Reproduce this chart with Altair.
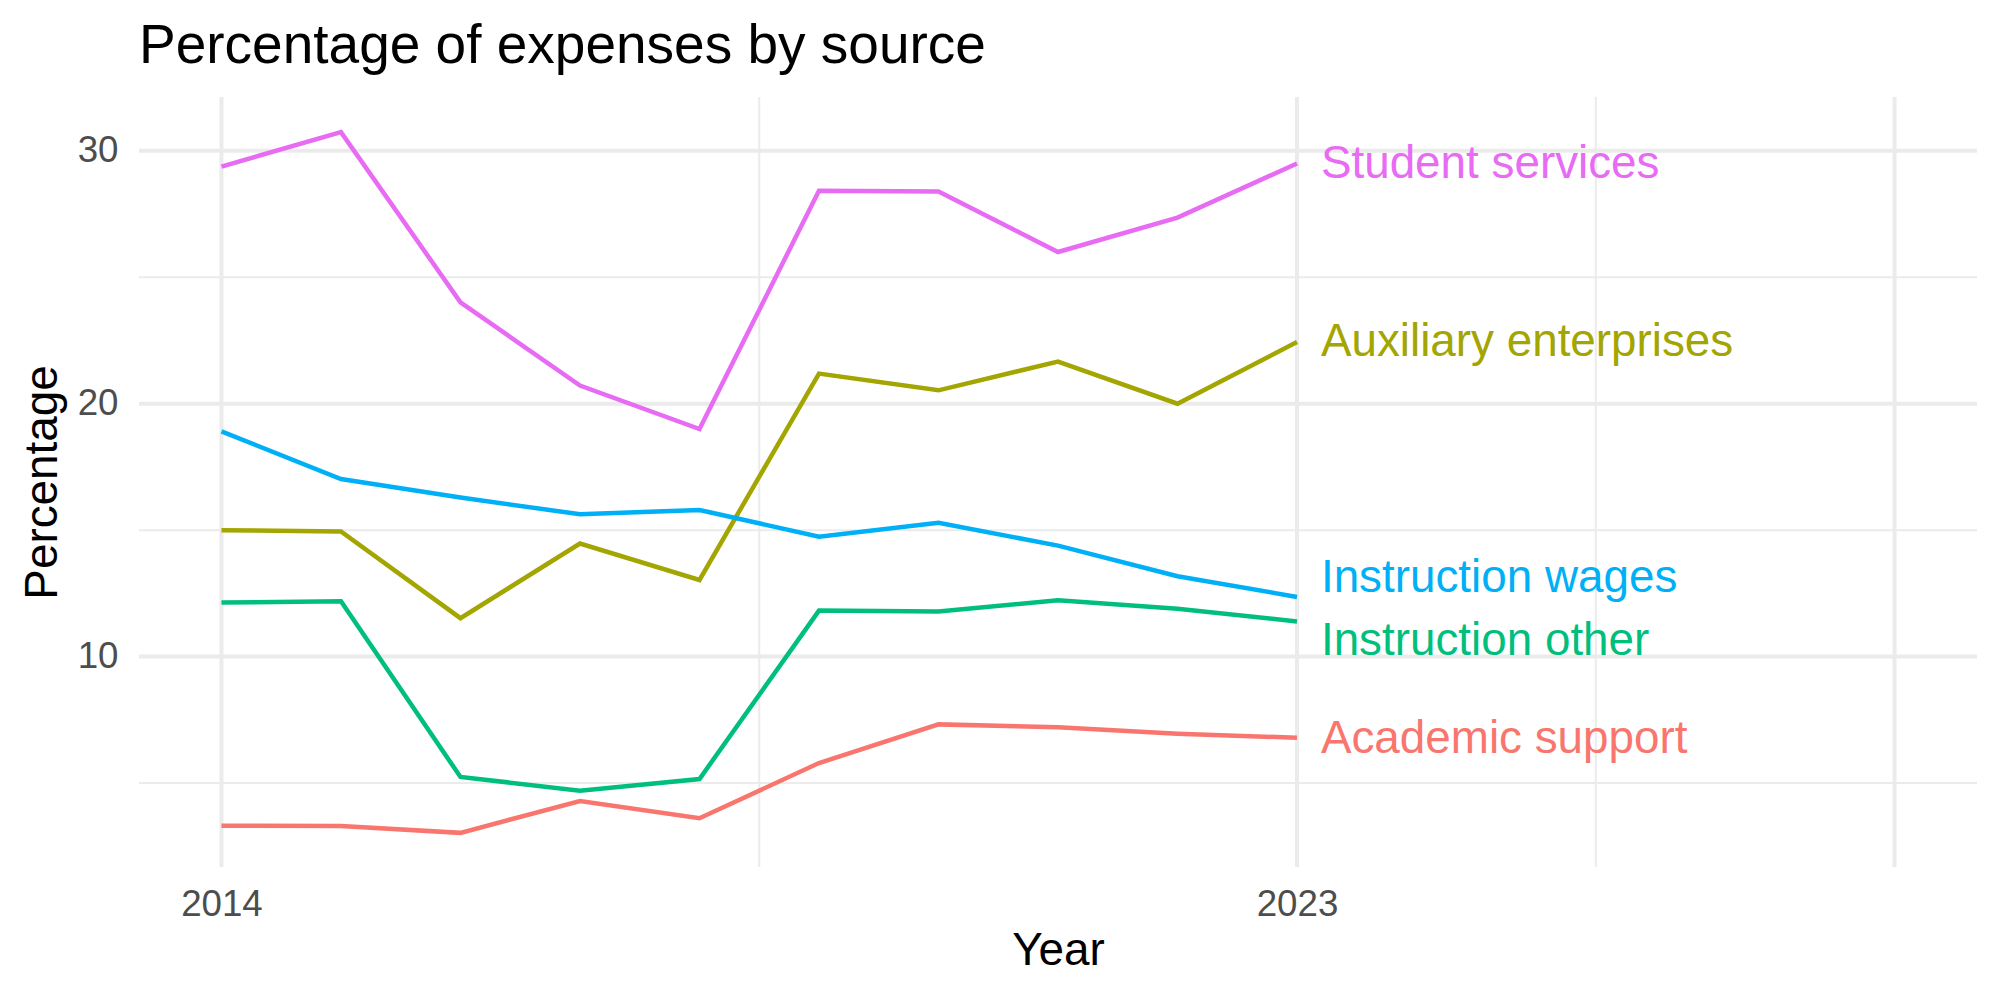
import altair as alt
import pandas as pd

# ---- data ----
years = list(range(2014, 2024))
series_names = ["Academic support", "Auxiliary enterprises", "Instruction other",
                "Instruction wages", "Student services"]
academic_support = [3.31, 3.30, 3.03, 4.29, 3.61, 5.79, 7.32, 7.21, 6.95, 6.79]
auxiliary_enterprises = [15.00, 14.95, 11.52, 14.47, 13.03, 21.19, 20.53, 21.67, 20.00, 22.44]
instruction_other = [12.14, 12.19, 5.24, 4.70, 5.16, 11.82, 11.78, 12.23, 11.89, 11.39]
instruction_wages = [18.91, 17.02, 16.29, 15.63, 15.80, 14.74, 15.29, 14.39, 13.18, 12.36]
student_services = [29.38, 30.74, 24.01, 20.72, 19.00, 28.42, 28.39, 26.00, 27.36, 29.50]
series_colors = ["#F8766D", "#A3A500", "#00BF7D", "#00B0F6", "#E76BF3"]

# direct labels (placed to the right of 2023, slightly repelled)
label_x = 2023.2
label_y = [6.75, 22.45, 10.62, 13.10, 29.47]

# axis breaks / gridlines
x_breaks_major = [2014, 2023, 2028]
x_breaks_minor = [2018.5, 2025.5]
x_labels = [2014, 2023]
y_breaks_major = [10, 20, 30]
y_breaks_minor = [5, 15, 25]
x_domain = [2013.31, 2028.69]
y_domain = [1.68, 32.13]

values = [academic_support, auxiliary_enterprises, instruction_other,
          instruction_wages, student_services]
rows = []
for name, vals in zip(series_names, values):
    for yr, v in zip(years, vals):
        rows.append({"Year": yr, "Percentage": v, "Source": name})
df = pd.DataFrame(rows)
labels_df = pd.DataFrame({"Source": series_names, "x": [label_x] * 5, "y": label_y})

FONT = "Liberation Sans"
GRID = "#EBEBEB"

xs = alt.Scale(domain=x_domain, nice=False, zero=False)
ys = alt.Scale(domain=y_domain, nice=False, zero=False)
color = alt.Color("Source:N", scale=alt.Scale(domain=series_names, range=series_colors),
                  legend=None)

x_axis = alt.Axis(values=x_labels, format="d", grid=False, domain=False,
                  ticks=False, labelFont=FONT, labelFontSize=36.7,
                  labelColor="#4D4D4D", labelPadding=19,
                  title="Year", titleFont=FONT, titleFontSize=45.8,
                  titleFontWeight="normal", titleColor="#000000",
                  titleBaseline="middle", titleY=83)
y_axis = alt.Axis(values=y_breaks_major, grid=False, domain=False,
                  ticks=False, labelFont=FONT, labelFontSize=36.7,
                  labelColor="#4D4D4D", labelPadding=21,
                  title="Percentage", titleFont=FONT, titleFontSize=45.8,
                  titleFontWeight="normal", titleColor="#000000",
                  titleAngle=-90, titleBaseline="middle",
                  titleAlign="center", titleX=-97, titleY=385)

hmajor = alt.Chart(pd.DataFrame({"v": y_breaks_major})).mark_rule(
    color=GRID, strokeWidth=4).encode(y=alt.Y("v:Q", scale=ys, axis=y_axis))
hminor = alt.Chart(pd.DataFrame({"v": y_breaks_minor})).mark_rule(
    color=GRID, strokeWidth=2).encode(y=alt.Y("v:Q", scale=ys, axis=y_axis))
vmajor = alt.Chart(pd.DataFrame({"v": x_breaks_major})).mark_rule(
    color=GRID, strokeWidth=4).encode(x=alt.X("v:Q", scale=xs, axis=x_axis))
vminor = alt.Chart(pd.DataFrame({"v": x_breaks_minor})).mark_rule(
    color=GRID, strokeWidth=2).encode(x=alt.X("v:Q", scale=xs, axis=x_axis))

lines = alt.Chart(df).mark_line(strokeWidth=4.5).encode(
    x=alt.X("Year:Q", scale=xs, axis=x_axis),
    y=alt.Y("Percentage:Q", scale=ys, axis=y_axis),
    color=color,
    detail="Source:N",
)

texts = alt.Chart(labels_df).mark_text(
    align="left", baseline="middle", font=FONT, fontSize=45.8).encode(
    x=alt.X("x:Q", scale=xs, axis=x_axis),
    y=alt.Y("y:Q", scale=ys, axis=y_axis),
    text="Source:N",
    color=color,
)

chart = alt.layer(hminor, hmajor, vminor, vmajor, lines, texts).properties(
    width=1838, height=770,
    autosize=alt.AutoSizeParams(type="none"),
    padding={"left": 139, "top": 97, "right": 23, "bottom": 133},
    title=alt.TitleParams("Percentage of expenses by source", anchor="start",
                          frame="group", font=FONT, fontSize=55,
                          fontWeight="normal", color="#000000",
                          baseline="alphabetic", offset=32, dy=55),
).configure(
    background="white",
    view=alt.ViewConfig(strokeWidth=0, stroke="transparent"),
)

chart.save("out.html", embed_options={"renderer": "svg", "actions": False})
